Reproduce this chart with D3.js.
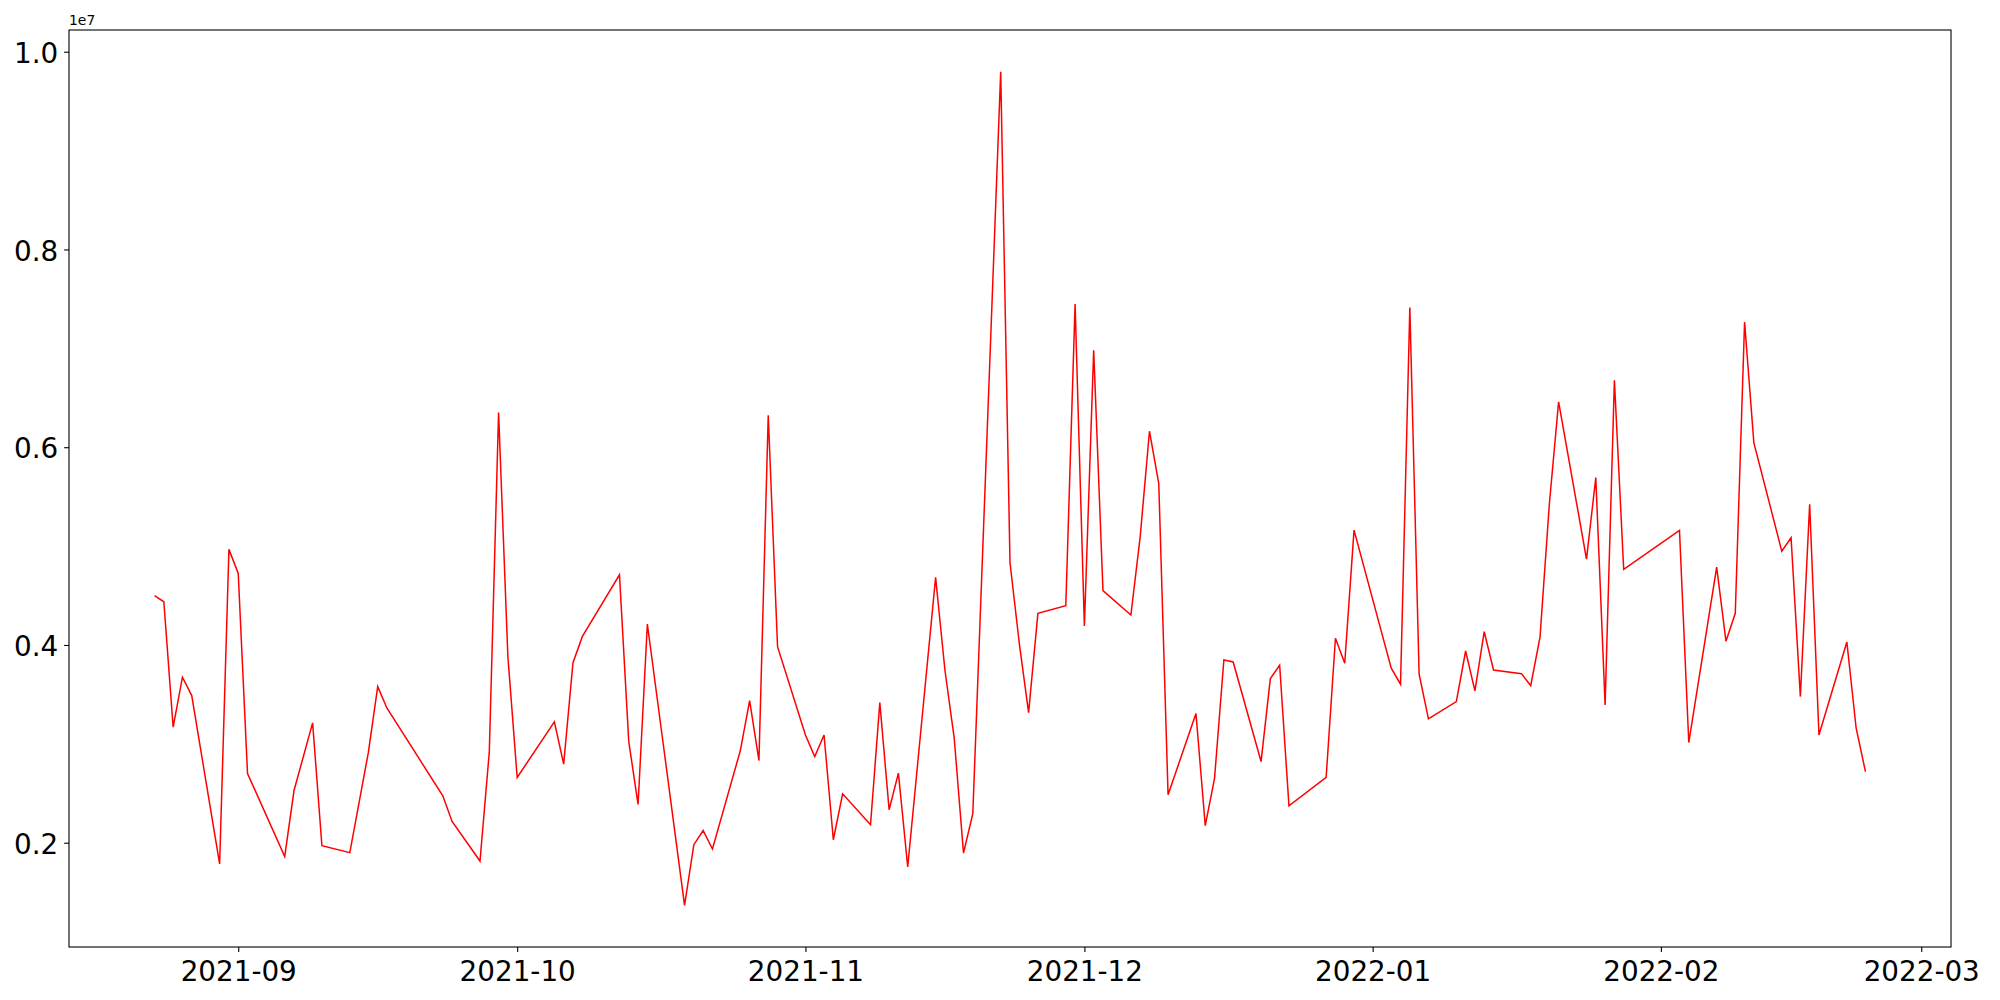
<!DOCTYPE html>
<html>
<head>
<meta charset="utf-8">
<script src="https://cdn.jsdelivr.net/npm/d3@7"></script>
<style>
  body { margin: 0; background: #fff; }
  svg { display: block; font-family: "DejaVu Sans", sans-serif; }
</style>
</head>
<body>
<svg id="chart" width="2000" height="1000"></svg>
<script>
const dates = [
  "2021-08-23","2021-08-24","2021-08-25","2021-08-26","2021-08-27","2021-08-30","2021-08-31",
  "2021-09-01","2021-09-02","2021-09-06","2021-09-07","2021-09-09","2021-09-10","2021-09-13",
  "2021-09-15","2021-09-16","2021-09-17","2021-09-23","2021-09-24","2021-09-27","2021-09-28",
  "2021-09-29","2021-09-30","2021-10-01","2021-10-05","2021-10-06","2021-10-07","2021-10-08",
  "2021-10-12","2021-10-13","2021-10-14","2021-10-15","2021-10-19","2021-10-20","2021-10-21",
  "2021-10-22","2021-10-25","2021-10-26","2021-10-27","2021-10-28","2021-10-29","2021-11-01",
  "2021-11-02","2021-11-03","2021-11-04","2021-11-05","2021-11-08","2021-11-09","2021-11-10",
  "2021-11-11","2021-11-12","2021-11-15","2021-11-16","2021-11-17","2021-11-18","2021-11-19",
  "2021-11-22","2021-11-23","2021-11-24","2021-11-25","2021-11-26","2021-11-29","2021-11-30",
  "2021-12-01","2021-12-02","2021-12-03","2021-12-06","2021-12-07","2021-12-08","2021-12-09",
  "2021-12-10","2021-12-13","2021-12-14","2021-12-15","2021-12-16","2021-12-17","2021-12-20",
  "2021-12-21","2021-12-22","2021-12-23","2021-12-27","2021-12-28","2021-12-29","2021-12-30",
  "2022-01-03","2022-01-04","2022-01-05","2022-01-06","2022-01-07","2022-01-10","2022-01-11",
  "2022-01-12","2022-01-13","2022-01-14","2022-01-17","2022-01-18","2022-01-19","2022-01-20",
  "2022-01-21","2022-01-24","2022-01-25","2022-01-26","2022-01-27","2022-01-28","2022-02-03",
  "2022-02-04","2022-02-07","2022-02-08","2022-02-09","2022-02-10","2022-02-11","2022-02-14",
  "2022-02-15","2022-02-16","2022-02-17","2022-02-18","2022-02-21","2022-02-22","2022-02-23"
];

const values = [
  4498000,4437000,3169000,3674000,3488000,1785000,4967000,
  4724000,2700000,1861000,2528000,3212000,1970000,1900000,
  2916000,3579000,3360000,2475000,2215000,1815000,2916000,
  6350000,3882000,2660000,3222000,2795000,3821000,4084000,
  4710000,3023000,2387000,4212000,1367000,1980000,2124000,
  1936000,2932000,3437000,2831000,6323000,3983000,3090000,
  2872000,3090000,2030000,2495000,2182000,3417000,2333000,
  2704000,1755000,4684000,3747000,3058000,1896000,2293000,
  9798000,4831000,4017000,3316000,4320000,4397000,7447000,
  4192000,6980000,4549000,4303000,5094000,6162000,5633000,
  2485000,3306000,2172000,2654000,3848000,3828000,2821000,
  3660000,3795000,2374000,2660000,4068000,3815000,5162000,
  3765000,3603000,7414000,3704000,3253000,3427000,3939000,
  3535000,4134000,3747000,3710000,3589000,4078000,5420000,
  6458000,4869000,5694000,3394000,6677000,4765000,5159000,
  3013000,4788000,4037000,4320000,7266000,6044000,4949000,
  5084000,3478000,5424000,3090000,4030000,3158000,2720000
];

const yTicks = [2e6, 4e6, 6e6, 8e6, 1e7];
const yExponent = 7;

const svg = d3.select('#chart');
const plotLeft = 69, plotRight = 1951, plotTop = 30, plotBottom = 947;
const fontSize = 27.8;

const parse = d3.utcParse('%Y-%m-%d');
const points = dates.map((d, i) => ({date: parse(d), value: values[i]}));

// matplotlib style 5% margins on both axes
const [x0, x1] = d3.extent(points, d => +d.date);
const xPad = (x1 - x0) * 0.05;
const [y0, y1] = d3.extent(points, d => d.value);
const yPad = (y1 - y0) * 0.05;

const x = d3.scaleUtc()
    .domain([new Date(x0 - xPad), new Date(x1 + xPad)])
    .range([plotLeft, plotRight]);

const y = d3.scaleLinear()
    .domain([y0 - yPad, y1 + yPad])
    .range([plotBottom, plotTop]);

svg.append('rect')
    .attr('width', 2000).attr('height', 1000)
    .attr('fill', '#fff');

const line = d3.line()
    .x(d => x(d.date))
    .y(d => y(d.value));

svg.append('path')
    .datum(points)
    .attr('fill', 'none')
    .attr('stroke', 'red')
    .attr('stroke-width', 1.5)
    .attr('stroke-linejoin', 'miter')
    .attr('d', line);

const xAxis = d3.axisBottom(x)
    .ticks(d3.utcMonth.every(1))
    .tickFormat(d3.utcFormat('%Y-%m'))
    .tickSizeInner(4.9)
    .tickSizeOuter(0)
    .tickPadding(9.4);

const gx = svg.append('g')
    .attr('transform', `translate(0,${plotBottom})`)
    .call(xAxis);

const yAxis = d3.axisLeft(y)
    .tickValues(yTicks)
    .tickFormat(d => (d / Math.pow(10, yExponent)).toFixed(1))
    .tickSizeInner(4.9)
    .tickSizeOuter(0)
    .tickPadding(5.8);

const gy = svg.append('g')
    .attr('transform', `translate(${plotLeft},0)`)
    .call(yAxis);

[gx, gy].forEach(g => {
  g.select('.domain').remove();
  g.selectAll('.tick line').attr('stroke', '#000').attr('stroke-width', 1.1);
  g.selectAll('.tick text')
    .attr('fill', '#000')
    .style('font-family', '"DejaVu Sans", sans-serif')
    .style('font-size', fontSize + 'px');
});
gy.selectAll('.tick text').attr('dy', '0.38em');

// frame
svg.append('rect')
    .attr('x', plotLeft).attr('y', plotTop)
    .attr('width', plotRight - plotLeft).attr('height', plotBottom - plotTop)
    .attr('fill', 'none')
    .attr('stroke', '#000')
    .attr('stroke-width', 1.1);

// offset text
svg.append('text')
    .attr('x', plotLeft)
    .attr('y', 25)
    .style('font-size', '13.9px')
    .attr('fill', '#000')
    .text('1e' + yExponent);
</script>
</body>
</html>
